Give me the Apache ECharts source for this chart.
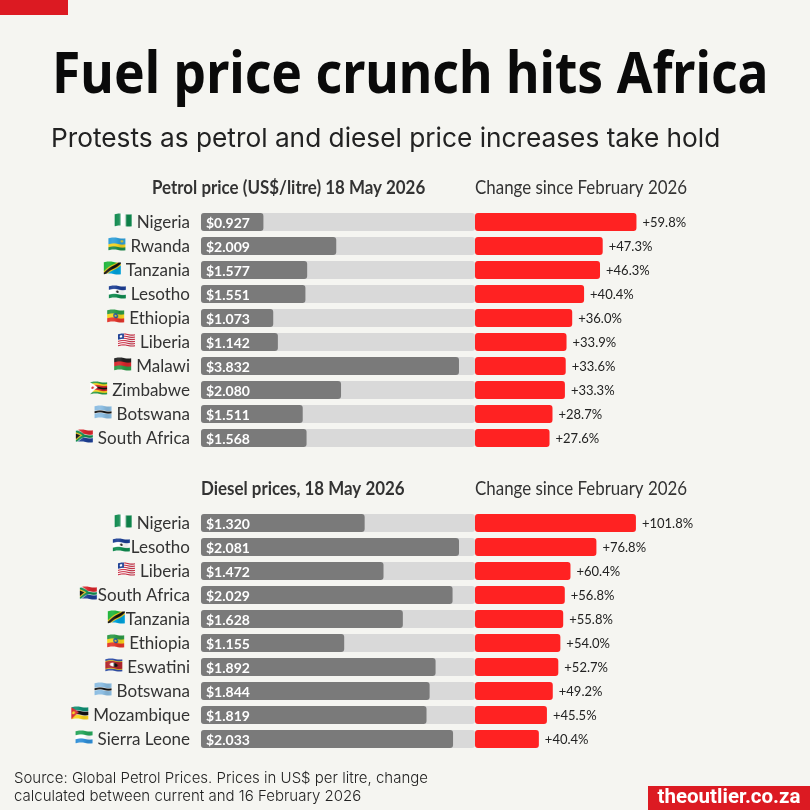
<!DOCTYPE html>
<html>
<head>
<meta charset="utf-8">
<style>html,body{margin:0;padding:0;background:#f5f5f1}#chart{width:810px;height:810px}</style>
<script src="https://cdn.jsdelivr.net/npm/echarts@6/dist/echarts.min.js"></script>
</head>
<body>
<div id="chart"></div>
<script>
// Petrol table
const petrolCountries = ['Nigeria','Rwanda','Tanzania','Lesotho','Ethiopia','Liberia','Malawi','Zimbabwe','Botswana','South Africa'];
const petrolPrices = [0.927,2.009,1.577,1.551,1.073,1.142,3.832,2.080,1.511,1.568];
const petrolChanges = [59.8,47.3,46.3,40.4,36.0,33.9,33.6,33.3,28.7,27.6];

// Diesel table
const dieselCountries = ['Nigeria','Lesotho','Liberia','South Africa','Tanzania','Ethiopia','Eswatini','Botswana','Mozambique','Sierra Leone'];
const dieselPrices = [1.320,2.081,1.472,2.029,1.628,1.155,1.892,1.844,1.819,2.033];
const dieselChanges = [101.8,76.8,60.4,56.8,55.8,54.0,52.7,49.2,45.5,40.4];

// These names sit tight against their flag in the diesel table
const tightDieselLabels = ['Lesotho','South Africa','Tanzania'];

const BG = '#f5f5f1', GREY = '#7a7a7a', TRACK = '#d9d9d9', RED = '#ff2222', BRAND = '#dc1a22', INK = '#333333';
const LABEL_FONT = 'Lato';

// Flat flag painters, working in a 68 x 48 box
function hBands(ctx, colours, weights) {
  const total = weights ? weights.reduce((a, b) => a + b, 0) : colours.length;
  let y = 0;
  colours.forEach((c, i) => {
    const h = 48 * (weights ? weights[i] : 1) / total;
    ctx.fillStyle = c; ctx.fillRect(0, y, 68, h + 0.5); y += h;
  });
}
function poly(ctx, colour, pts) {
  ctx.fillStyle = colour; ctx.beginPath();
  pts.forEach((p, i) => i ? ctx.lineTo(p[0], p[1]) : ctx.moveTo(p[0], p[1]));
  ctx.closePath(); ctx.fill();
}
function disc(ctx, colour, x, y, r) {
  ctx.fillStyle = colour; ctx.beginPath(); ctx.arc(x, y, r, 0, Math.PI * 2); ctx.fill();
}
const flagPainters = {
  Nigeria(c) { c.fillStyle = '#0f8a4f'; c.fillRect(0,0,68,48); c.fillStyle = '#fff'; c.fillRect(23,0,22,48); },
  Rwanda(c) { hBands(c, ['#2f9fd8','#f5d21f','#1f8a4a'], [2,1,1]); disc(c,'#f5d21f',54,11,5); },
  Tanzania(c) {
    poly(c,'#1eb53a',[[0,0],[68,0],[0,48]]); poly(c,'#00a3dd',[[68,0],[68,48],[0,48]]);
    poly(c,'#fcd116',[[0,36],[52,0],[68,0],[68,12],[16,48],[0,48]]);
    poly(c,'#111',[[0,42],[58,0],[68,0],[68,6],[10,48],[0,48]]);
  },
  Lesotho(c) { hBands(c, ['#1d3f94','#fff','#fff','#0f8a4f'], [3,2,2,3]); disc(c,'#222',34,24,5); },
  Ethiopia(c) { hBands(c, ['#2c9a47','#f7d51d','#e2362c']); disc(c,'#1f55a8',34,24,10); disc(c,'#f7d51d',34,24,4); },
  Liberia(c) {
    hBands(c, ['#c8263c','#fff','#c8263c','#fff','#c8263c','#fff','#c8263c','#fff','#c8263c','#fff','#c8263c']);
    c.fillStyle = '#1d3f94'; c.fillRect(0,0,24,22); disc(c,'#fff',12,11,5);
  },
  Malawi(c) { hBands(c, ['#222','#d8262c','#2c9a47']); },
  Zimbabwe(c) {
    hBands(c, ['#2c9a47','#f7d51d','#d8262c','#111','#d8262c','#f7d51d','#2c9a47']);
    poly(c,'#fff',[[0,0],[30,24],[0,48]]); disc(c,'#d8262c',10,24,5);
  },
  Botswana(c) { hBands(c, ['#8bbde2','#fff','#111','#fff','#8bbde2'], [9,1,4,1,9]); },
  'South Africa'(c) {
    hBands(c, ['#d8262c','#fff','#0f8a4f','#fff','#1d3f94'], [7,1,4,1,7]);
    poly(c,'#fff',[[0,0],[8,0],[36,20],[36,28],[8,48],[0,48]]);
    poly(c,'#0f8a4f',[[0,2],[6,2],[36,20],[36,28],[6,46],[0,46]]);
    poly(c,'#f7c51d',[[0,8],[26,24],[0,40]]);
    poly(c,'#111',[[0,13],[18,24],[0,35]]);
  },
  Eswatini(c) {
    hBands(c, ['#2f4fa8','#f7d51d','#b3262c','#f7d51d','#2f4fa8'], [1,0.4,4,0.4,1]);
    c.fillStyle = '#fff'; c.beginPath(); c.ellipse(34,24,16,8,0,0,Math.PI*2); c.fill();
    c.fillStyle = '#111'; c.beginPath(); c.ellipse(34,24,16,8,0,-Math.PI/2,Math.PI/2); c.fill();
  },
  Mozambique(c) {
    hBands(c, ['#0f8f73','#fff','#111','#fff','#f7d51d'], [7,1,7,1,7]);
    poly(c,'#d8262c',[[0,0],[30,24],[0,48]]); disc(c,'#f7d51d',9,24,6);
  },
  'Sierra Leone'(c) { hBands(c, ['#26a65b','#fff','#2f8fd8']); }
};

// Paints a flag, then shifts narrow columns to give the cloth a gentle ripple
function flagImage(name) {
  const flat = document.createElement('canvas');
  flat.width = 68; flat.height = 48;
  flagPainters[name](flat.getContext('2d'));
  const out = document.createElement('canvas');
  out.width = 68; out.height = 56;
  const ctx = out.getContext('2d');
  for (let x = 0; x < 68; x++) {
    const dy = 4 - 2.5 * Math.sin((x / 68) * Math.PI * 2 - 0.4);
    ctx.drawImage(flat, x, 0, 1, 48, x, dy, 1, 48);
  }
  // soft fold shading
  ctx.globalCompositeOperation = 'source-atop';
  for (let x = 0; x < 68; x++) {
    const a = 0.08 * Math.sin((x / 68) * Math.PI * 2);
    ctx.fillStyle = a > 0 ? 'rgba(255,255,255,' + a + ')' : 'rgba(0,0,0,' + (-a) + ')';
    ctx.fillRect(x, 0, 1, 56);
  }
  return out.toDataURL();
}

const flagKeys = {};
const nameStyle = { fontFamily: LABEL_FONT, fontSize: 17, color: INK, height: 20, lineHeight: 20, verticalAlign: 'middle' };
const labelRich = {
  name: Object.assign({ padding: [0, 0, 0, 5] }, nameStyle),
  tight: Object.assign({ padding: [0, 0, 0, 1] }, nameStyle)
};
[...new Set([...petrolCountries, ...dieselCountries])].forEach((name, i) => {
  const key = 'f' + i;
  flagKeys[name] = key;
  labelRich[key] = { width: 17, height: 14, verticalAlign: 'top', backgroundColor: { image: flagImage(name) } };
});
function countryLabel(name, tight) {
  return '{' + flagKeys[name] + '|}{' + (tight ? 'tight' : 'name') + '|' + name + '}';
}

// Grid geometry shared by the two tables
const tracks = { left: 201, width: 274 };
const changes = { left: 475, width: 270 };
const rows = { petrol: 210, diesel: 511, height: 240 };

function grid(col, top) { return { left: col.left, width: col.width, top, height: rows.height }; }
function valueAxis(gridIndex, max) { return { type: 'value', gridIndex, min: 0, max, show: false }; }
function categoryAxis(gridIndex, data, withLabels, tightNames) {
  return {
    type: 'category', gridIndex, data, inverse: true,
    axisLine: { show: false }, axisTick: { show: false }, splitLine: { show: false },
    axisLabel: withLabels
      ? { show: true, margin: 11, interval: 0, padding: [2, 0, 0, 0], formatter: v => countryLabel(v, tightNames.includes(v)), rich: labelRich }
      : { show: false }
  };
}
function priceSeries(i, data) {
  return {
    type: 'bar', xAxisIndex: i, yAxisIndex: i, data, barWidth: 18,
    itemStyle: { color: GREY, borderRadius: 3 },
    showBackground: true,
    backgroundStyle: { color: TRACK, borderRadius: 3 },
    label: {
      show: true, position: 'insideLeft', distance: 5, offset: [0, 1], color: '#fff', fontFamily: LABEL_FONT,
      fontWeight: 'bold', fontSize: 14, formatter: p => '$' + p.value.toFixed(3)
    }
  };
}
function changeSeries(i, data) {
  return {
    type: 'bar', xAxisIndex: i, yAxisIndex: i, data, barWidth: 18,
    itemStyle: { color: RED, borderRadius: 3 },
    label: {
      show: true, position: 'right', distance: 6, offset: [0, 1], color: '#222', fontFamily: LABEL_FONT,
      fontSize: 13, formatter: p => '+' + p.value.toFixed(1) + '%'
    }
  };
}
function text(x, y, str, style, scaleX) {
  return { type: 'text', x, y, scaleX: scaleX || 1, silent: true, style: Object.assign({ text: str, fill: INK, verticalAlign: 'middle' }, style) };
}

const chart = echarts.init(document.getElementById('chart'), null, { renderer: 'canvas' });
chart.setOption({
  backgroundColor: BG,
  animation: false,
  grid: [grid(tracks, rows.petrol), grid(changes, rows.petrol), grid(tracks, rows.diesel), grid(changes, rows.diesel)],
  xAxis: [valueAxis(0, 4.07), valueAxis(1, 100), valueAxis(2, 2.21), valueAxis(3, 170.8)],
  yAxis: [
    categoryAxis(0, petrolCountries, true, []),
    categoryAxis(1, petrolCountries, false),
    categoryAxis(2, dieselCountries, true, tightDieselLabels),
    categoryAxis(3, dieselCountries, false)
  ],
  series: [
    priceSeries(0, petrolPrices), changeSeries(1, petrolChanges),
    priceSeries(2, dieselPrices), changeSeries(3, dieselChanges)
  ],
  graphic: [
    { type: 'rect', silent: true, shape: { x: 0, y: 0, width: 68, height: 15 }, style: { fill: BRAND } },
    text(52, 76, 'Fuel price crunch hits Africa', { fontFamily: 'Noto Sans', fontWeight: 'bold', fontSize: 58, fill: '#0a0a0a' }, 0.89),
    text(51, 139, 'Protests as petrol and diesel price increases take hold', { fontFamily: 'Inter', fontSize: 26.25, fill: '#222' }),
    text(152, 188, 'Petrol price (US$/litre) 18 May 2026', { fontFamily: LABEL_FONT, fontWeight: 'bold', fontSize: 19 }, 0.89),
    text(475, 188, 'Change since February 2026', { fontFamily: LABEL_FONT, fontSize: 19 }, 0.89),
    text(201, 489, 'Diesel prices, 18 May 2026', { fontFamily: LABEL_FONT, fontWeight: 'bold', fontSize: 19 }, 0.89),
    text(475, 489, 'Change since February 2026', { fontFamily: LABEL_FONT, fontSize: 19 }, 0.89),
    text(14, 778, 'Source: Global Petrol Prices. Prices in US$ per litre, change', { fontFamily: 'Inter', fontWeight: 300, fontSize: 15, fill: '#222' }),
    text(14, 796, 'calculated between current and 16 February 2026', { fontFamily: 'Inter', fontWeight: 300, fontSize: 15, fill: '#222' }),
    { type: 'rect', silent: true, shape: { x: 648, y: 786, width: 162, height: 24 }, style: { fill: BRAND } },
    text(729, 798, 'theoutlier.co.za', { fontFamily: 'Roboto', fontWeight: 'bold', fontSize: 20.5, fill: '#fff', align: 'center' })
  ]
});
</script>
</body>
</html>
